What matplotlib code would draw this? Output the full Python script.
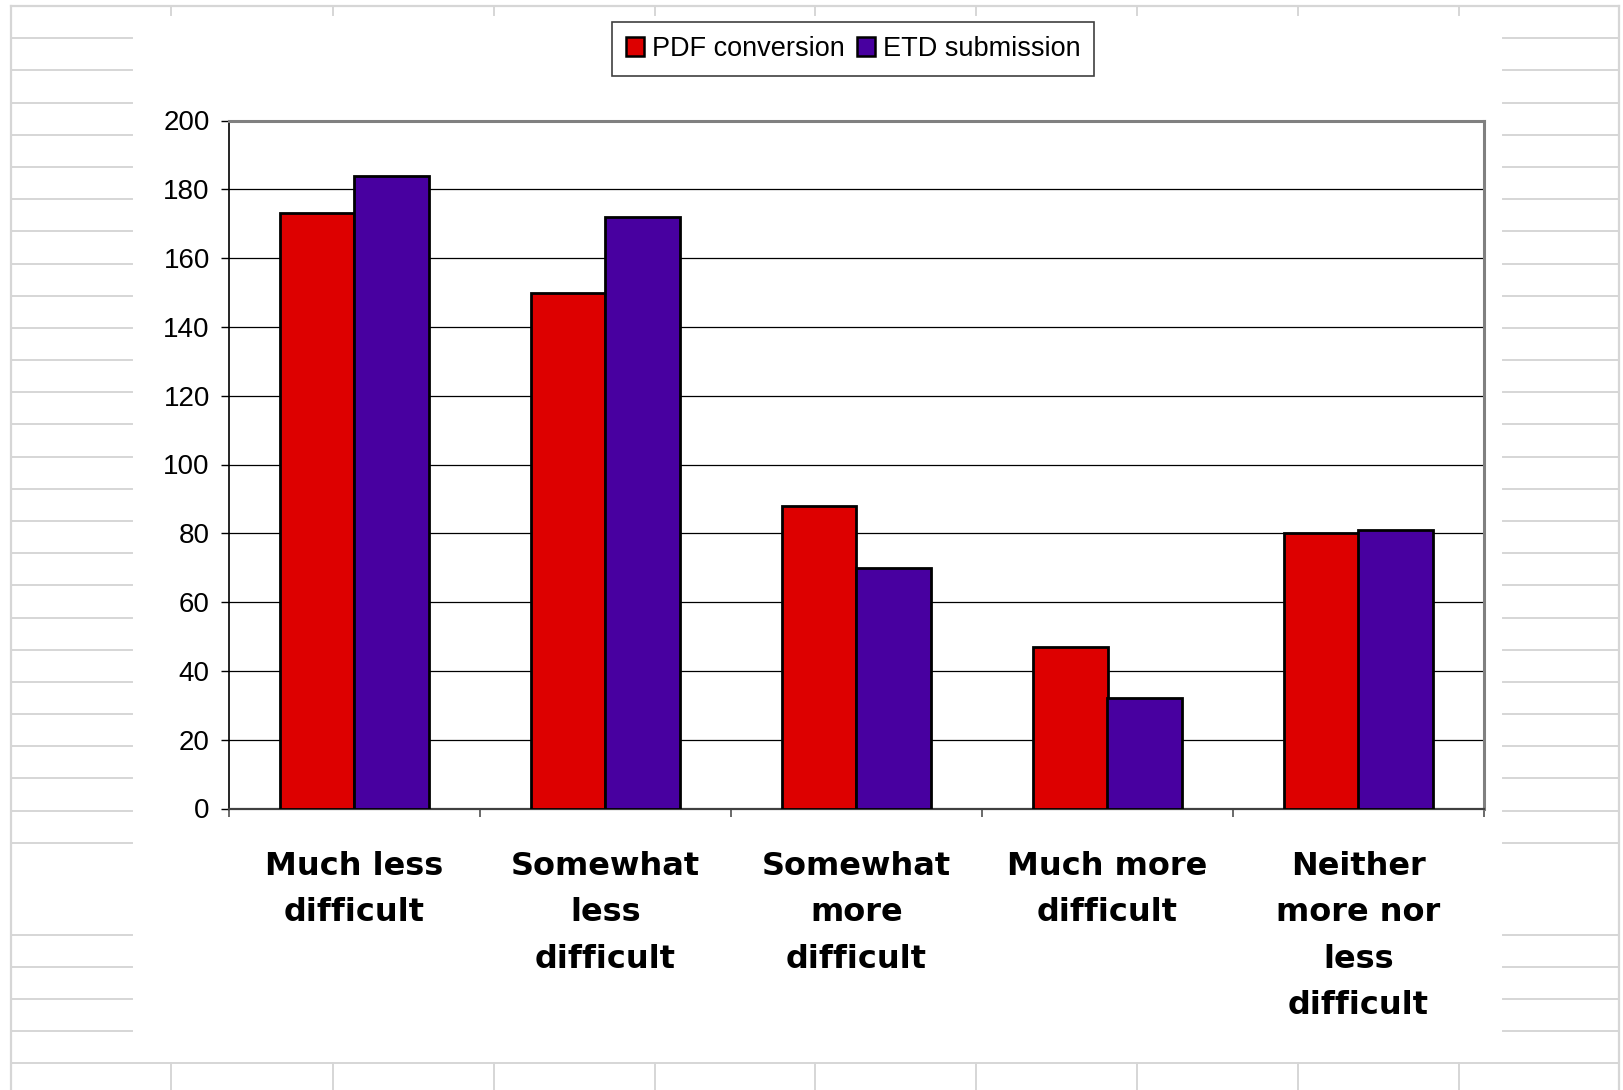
import matplotlib
matplotlib.use("Agg")
import matplotlib.pyplot as plt
from matplotlib.lines import Line2D
from matplotlib.patches import Patch
import numpy as np

# ---- data -------------------------------------------------------------
categories = [
    "Much less\ndifficult",
    "Somewhat\nless\ndifficult",
    "Somewhat\nmore\ndifficult",
    "Much more\ndifficult",
    "Neither\nmore nor\nless\ndifficult",
]
series_names = ["PDF conversion", "ETD submission"]
pdf_conversion = [173, 150, 88, 47, 80]
etd_submission = [184, 172, 70, 32, 81]
y_ticks = [0, 20, 40, 60, 80, 100, 120, 140, 160, 180, 200]

# ---- styling ----------------------------------------------------------
RED = "#dd0000"
PURPLE = "#4800a0"
SHEET = "#d6d6d6"

plt.rcParams["font.family"] = ["Liberation Sans", "DejaVu Sans"]

W, H = 1624, 1090
fig = plt.figure(figsize=(W / 100, H / 100), dpi=100)
fig.patch.set_facecolor("white")


def fx(px):
    return px / W


def fy(py):
    return 1 - py / H


def sheet_line(x0, y0, x1, y1, lw=1.4):
    fig.add_artist(Line2D([fx(x0), fx(x1)], [fy(y0), fy(y1)],
                          transform=fig.transFigure, color=SHEET,
                          lw=lw, zorder=0))


# worksheet cells around the embedded chart
sheet_line(11, 6, 1619, 6, lw=1.6)
sheet_line(11, 6, 11, 1090, lw=1.6)
sheet_line(1619, 6, 1619, 1090, lw=1.6)
sheet_line(11, 1063, 1619, 1063)
row_lines = [38.3 + 32.18 * k for k in range(26)] + [935, 967, 999, 1031]
for ry in row_lines:
    sheet_line(11, ry, 132, ry)
    sheet_line(1503, ry, 1619, ry)
col_lines = [171, 333, 494, 655, 815, 976, 1137, 1298, 1459]
for cx in col_lines:
    sheet_line(cx, 6, cx, 15)
    sheet_line(cx, 1063, cx, 1090)

# ---- chart ------------------------------------------------------------
left, right, top, bottom = 229, 1484, 120.5, 808.5
ax = fig.add_axes([fx(left), fy(bottom), (right - left) / W, (bottom - top) / H])

x = np.arange(len(categories))
w = 0.295
ax.bar(x - w / 2, pdf_conversion, w, color=RED, edgecolor="black",
       linewidth=2.0, zorder=3)
ax.bar(x + w / 2, etd_submission, w, color=PURPLE, edgecolor="black",
       linewidth=2.0, zorder=3)

ax.set_xlim(-0.5, len(categories) - 0.5)
ax.set_ylim(0, 200)
ax.set_yticks(y_ticks)
ax.set_yticklabels([str(v) for v in y_ticks])
ax.yaxis.grid(True, color="black", linewidth=0.9)
ax.set_axisbelow(True)

ax.set_xticks(np.arange(-0.5, len(categories), 1.0))
ax.set_xticklabels([])
ax.tick_params(axis="x", direction="out", length=5.8, width=1.2,
               color="#505050")
ax.tick_params(axis="y", direction="out", length=5.8, width=1.0,
               color="black", pad=8.0, labelsize=20)

for side in ("top", "right"):
    ax.spines[side].set_color("#808080")
    ax.spines[side].set_linewidth(2.2)
ax.spines["left"].set_color("black")
ax.spines["left"].set_linewidth(1.2)
ax.spines["bottom"].set_color("#404040")
ax.spines["bottom"].set_linewidth(1.6)

label_y = -(851 - bottom) / (bottom - top)
for i, lab in enumerate(categories):
    ax.text(i, label_y, lab, transform=ax.get_xaxis_transform(),
            ha="center", va="top", multialignment="center",
            fontsize=23, fontweight="bold", family="DejaVu Sans",
            linespacing=1.64)

handles = [Patch(facecolor=RED, edgecolor="black", linewidth=1.8),
           Patch(facecolor=PURPLE, edgecolor="black", linewidth=1.8)]
leg = fig.legend(handles, series_names, loc="center",
                 bbox_to_anchor=(fx(853), fy(49)), ncol=2, fontsize=19.5,
                 frameon=True, fancybox=False, edgecolor="#404040",
                 handlelength=0.66, handleheight=0.66, handletextpad=0.3,
                 columnspacing=0.45, borderpad=0.5, borderaxespad=0)
leg.get_frame().set_linewidth(1.2)
leg.get_frame().set_alpha(1)

fig.savefig("out.png", dpi=100, facecolor="white")
